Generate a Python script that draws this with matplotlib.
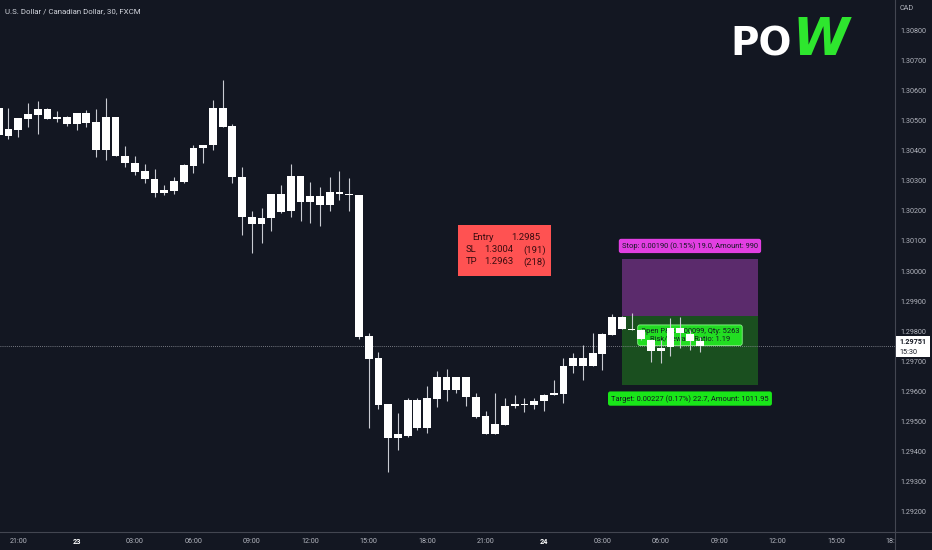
import matplotlib.pyplot as plt
from matplotlib.patches import Rectangle
from matplotlib.lines import Line2D
from matplotlib.transforms import Bbox, TransformedBbox

plt.rcParams['font.family'] = ['Roboto', 'DejaVu Sans']

# USDCAD 30-minute candles, bar 0 = 22nd 21:00
bar_idx = list(range(-2, 71))
opens = [1.30541, 1.30448, 1.30468, 1.30505, 1.30518, 1.30538, 1.30505, 1.30511, 1.30488, 1.30525,
         1.30495, 1.30402, 1.30511, 1.30382, 1.30359, 1.30332, 1.30305, 1.30259, 1.30266, 1.30295,
         1.30349, 1.30408, 1.30418, 1.30541, 1.30481, 1.30312, 1.30179, 1.30156, 1.30176, 1.30256,
         1.30199, 1.30315, 1.30229, 1.30249, 1.30219, 1.30262, 1.30256, 1.30252, 1.29784, 1.29711,
         1.29558, 1.29446, 1.29452, 1.29572, 1.29479, 1.29575, 1.29648, 1.29605, 1.29648, 1.29582,
         1.29519, 1.29459, 1.29489, 1.29552, 1.29558, 1.29555, 1.29568, 1.29588, 1.29592, 1.29685,
         1.29711, 1.29685, 1.29724, 1.29788, 1.29847, 1.29807, 1.29804, 1.29771, 1.29734, 1.29748,
         1.29811, 1.29791, 1.29768]
highs = [1.30545, 1.30541, 1.30508, 1.30558, 1.30564, 1.30541, 1.30531, 1.30515, 1.30525, 1.30534,
         1.30538, 1.30574, 1.30511, 1.30415, 1.30382, 1.30355, 1.30339, 1.30286, 1.30312, 1.30355,
         1.30418, 1.30418, 1.30568, 1.30634, 1.30488, 1.30345, 1.30199, 1.30209, 1.30256, 1.30286,
         1.30355, 1.30315, 1.30295, 1.30279, 1.30312, 1.30332, 1.30309, 1.30252, 1.29794, 1.29731,
         1.29558, 1.29529, 1.29578, 1.29578, 1.29618, 1.29668, 1.29675, 1.29648, 1.29648, 1.29595,
         1.29535, 1.29595, 1.29578, 1.29588, 1.29578, 1.29578, 1.29592, 1.29638, 1.29711, 1.29728,
         1.29754, 1.29794, 1.29794, 1.29857, 1.29851, 1.29861, 1.29807, 1.29771, 1.29771, 1.29844,
         1.29847, 1.29804, 1.29781]
lows = [1.30445, 1.30438, 1.30445, 1.30478, 1.30455, 1.30505, 1.30495, 1.30481, 1.30468, 1.30478,
        1.30378, 1.30369, 1.30382, 1.30345, 1.30319, 1.30292, 1.30246, 1.30252, 1.30256, 1.30292,
        1.30325, 1.30359, 1.30402, 1.30478, 1.30292, 1.30120, 1.30060, 1.30093, 1.30133, 1.30193,
        1.30179, 1.30166, 1.30159, 1.30149, 1.30199, 1.30236, 1.30199, 1.29774, 1.29479, 1.29542,
        1.29333, 1.29406, 1.29449, 1.29472, 1.29462, 1.29548, 1.29568, 1.29595, 1.29552, 1.29512,
        1.29459, 1.29459, 1.29489, 1.29545, 1.29532, 1.29542, 1.29535, 1.29588, 1.29562, 1.29661,
        1.29638, 1.29685, 1.29671, 1.29788, 1.29807, 1.29804, 1.29771, 1.29698, 1.29695, 1.29718,
        1.29744, 1.29738, 1.29731]
closes = [1.30452, 1.30471, 1.30508, 1.30521, 1.30538, 1.30505, 1.30511, 1.30488, 1.30525, 1.30491,
          1.30402, 1.30511, 1.30382, 1.30359, 1.30329, 1.30305, 1.30259, 1.30269, 1.30299, 1.30352,
          1.30408, 1.30418, 1.30541, 1.30478, 1.30312, 1.30179, 1.30156, 1.30176, 1.30256, 1.30196,
          1.30315, 1.30229, 1.30249, 1.30219, 1.30262, 1.30256, 1.30252, 1.29781, 1.29708, 1.29555,
          1.29446, 1.29459, 1.29572, 1.29479, 1.29578, 1.29648, 1.29605, 1.29648, 1.29582, 1.29515,
          1.29459, 1.29492, 1.29552, 1.29558, 1.29555, 1.29568, 1.29588, 1.29595, 1.29685, 1.29711,
          1.29685, 1.29728, 1.29791, 1.29847, 1.29807, 1.29804, 1.29774, 1.29734, 1.29744, 1.29811,
          1.29794, 1.29768, 1.29751]

# time axis (every 6 bars = 3 hours)
tick_bars = [0, 6, 12, 18, 24, 30, 36, 42, 48, 54, 60, 66, 72, 78, 84, 90]
tick_labels = ["21:00", "23", "03:00", "06:00", "09:00", "12:00", "15:00", "18:00",
               "21:00", "24", "03:00", "06:00", "09:00", "12:00", "15:00", "18:00"]
price_ticks = [1.292, 1.293, 1.294, 1.295, 1.296, 1.297, 1.298, 1.299, 1.300,
               1.301, 1.302, 1.303, 1.304, 1.305, 1.306, 1.307, 1.308]

# long/short position tool
pos_start, pos_end = 62, 76
entry, stop, target = 1.2985, 1.3004, 1.29623
stop_text = "Stop: 0.00190 (0.15%) 19.0, Amount: 990"
target_text = "Target: 0.00227 (0.17%) 22.7, Amount: 1011.95"
mid_text = "Open P&L: 0.00099, Qty: 5263\nRisk/Reward Ratio: 1.19"
last_price = 1.29751

BG = '#131722'
W, H = 932, 550

fig = plt.figure(figsize=(9.32, 5.5), dpi=100, facecolor=BG)
ax = fig.add_axes([0, 18 / H, 895 / W, 532 / H])
ax.set_facecolor(BG)
ax.set_xlim(-1.87, 90.06)
ax.set_ylim(1.291336, 1.308996)

# candles
for i, o, h, l, c in zip(bar_idx, opens, highs, lows, closes):
    ax.vlines(i, l, h, color='#c9cbd2', lw=0.8, zorder=3)
    lo = min(o, c)
    ht = max(abs(c - o), 0.00004)
    ax.bar(i, ht, bottom=lo, width=0.8, color='white', edgecolor='none', zorder=4)

# position zones
ax.add_patch(Rectangle((pos_start, entry), pos_end - pos_start, stop - entry,
                       facecolor='#5b2b6c', edgecolor='none', zorder=1))
ax.add_patch(Rectangle((pos_start, target), pos_end - pos_start, entry - target,
                       facecolor='#1a4f1f', edgecolor='none', zorder=1))
mid_x = (pos_start + pos_end) / 2
ax.annotate(stop_text, (mid_x, stop), xytext=(0, 13), textcoords='offset pixels',
            ha='center', va='center', fontsize=5.4, color='#131722', zorder=6,
            bbox=dict(boxstyle='round,pad=0.42,rounding_size=0.3', fc='#e23fe2', ec='none'))
ax.annotate(target_text, (mid_x, target), xytext=(0, -14), textcoords='offset pixels',
            ha='center', va='center', fontsize=5.4, color='#131722', zorder=6,
            bbox=dict(boxstyle='round,pad=0.42,rounding_size=0.3', fc='#19e619', ec='none'))
ax.annotate(mid_text, (mid_x, entry), xytext=(0, -19), textcoords='offset pixels',
            ha='center', va='center', fontsize=5.4, color='#131722', zorder=2,
            linespacing=1.1,
            bbox=dict(boxstyle='round,pad=0.4,rounding_size=0.3', fc='#22dd22', ec='#8af58a', lw=0.6))

# last price line
ax.axhline(last_price, color='#9598a1', lw=0.6, ls=(0, (1, 1.5)), zorder=2)

# axes styling
for s in ax.spines.values():
    s.set_visible(False)
ax.yaxis.tick_right()
ax.set_yticks(price_ticks)
ax.set_yticklabels([f"{p:.5f}" for p in price_ticks])
ax.tick_params(axis='y', length=0, pad=4, labelsize=5.2, labelcolor='#b2b5be')
ax.set_xticks(tick_bars)
ax.set_xticklabels(tick_labels)
ax.tick_params(axis='x', length=0, pad=4, labelsize=5.2, labelcolor='#b2b5be')
clip = TransformedBbox(Bbox([[0, 0], [895 / W, 1]]), fig.transFigure)
for lab in ax.get_xticklabels():
    lab.set_clip_box(clip)
    lab.set_clip_on(True)
    if lab.get_text() in ("23", "24"):
        lab.set_fontweight('bold')
        lab.set_color('white')

# separators
fig.add_artist(Line2D([895 / W, 895 / W], [0, 1], color='#434651', lw=0.8))
fig.add_artist(Line2D([0, 1], [18 / H, 18 / H], color='#434651', lw=0.8))

# header
fig.text(5 / W, 1 - 11 / H, "U.S. Dollar / Canadian Dollar, 30, FXCM", fontsize=5.7,
         color='#d1d4dc', va='center', ha='left')
fig.text(900 / W, 1 - 9 / H, "CAD", fontsize=5.2, color='#b2b5be', va='center', ha='left')

# logo
fig.text(730 / W, 1 - 55 / H, "PO", fontsize=28, fontweight='bold', color='white',
         family='DejaVu Sans', ha='left', va='baseline')
fig.text(792 / W, 1 - 55 / H, "W", fontsize=37, fontweight='bold', style='italic',
         color='#2ee62e', family='DejaVu Sans', ha='left', va='baseline')

# price tag
fig.add_artist(Rectangle((896 / W, 1 - 357 / H), 34 / W, 21 / H, transform=fig.transFigure,
                         facecolor='white', edgecolor='none', zorder=5))
fig.text(899 / W, 1 - 342 / H, f"{last_price:.5f}", fontsize=5.2, fontweight='bold',
         color='#131722', va='center', ha='left', zorder=6)
fig.text(899 / W, 1 - 352 / H, "15:30", fontsize=5.2, color='#131722',
         va='center', ha='left', zorder=6)

# strategy info table
fig.add_artist(Rectangle((458 / W, 1 - 276 / H), 93 / W, 51 / H, transform=fig.transFigure,
                         facecolor='#ff5252', edgecolor='none', zorder=5))
info_rows = [("Entry", "1.2985", ""), ("SL", "1.3004", "(191)"), ("TP", "1.2963", "(218)")]
row_y = [237, 250, 262]
for (a, b, c), yy in zip(info_rows, row_y):
    if a == "Entry":
        fig.text(472 / W, 1 - yy / H, a, fontsize=6.8, color='#3b0d10', va='center', ha='left', zorder=6)
        fig.text(540 / W, 1 - yy / H, b, fontsize=6.8, color='#3b0d10', va='center', ha='right', zorder=6)
    else:
        fig.text(466 / W, 1 - yy / H, a, fontsize=6.8, color='#3b0d10', va='center', ha='left', zorder=6)
        fig.text(484 / W, 1 - yy / H, b, fontsize=6.8, color='#3b0d10', va='center', ha='left', zorder=6)
        fig.text(546 / W, 1 - yy / H, c, fontsize=6.8, color='#3b0d10', va='center', ha='right', zorder=6)

fig.savefig("out.png", dpi=100, facecolor=BG)
